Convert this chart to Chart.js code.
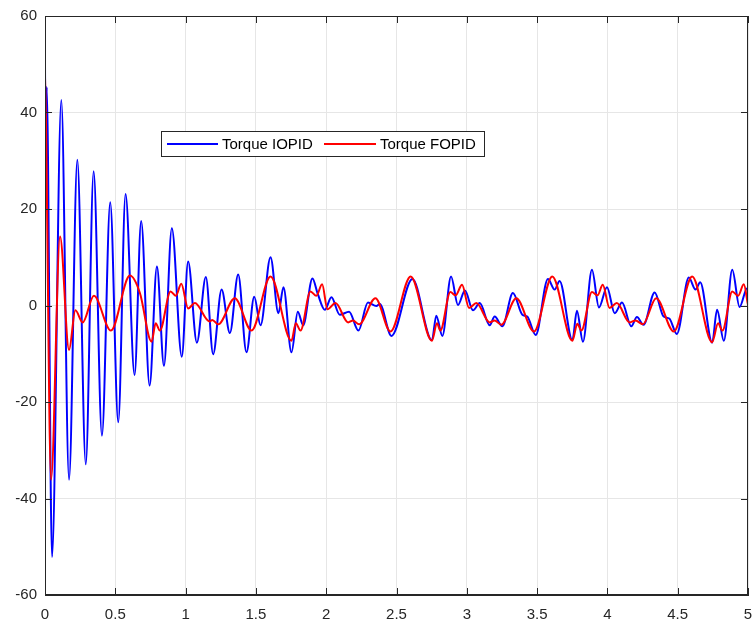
<!DOCTYPE html>
<html>
<head>
<meta charset="utf-8">
<script src="https://cdn.jsdelivr.net/npm/chart.js@4.4.0/dist/chart.umd.min.js"></script>
<style>
  html, body { margin: 0; padding: 0; background: #fff; }
</style>
</head>
<body>
<canvas id="graficoTorque" width="753" height="623"></canvas>
<script>
// ======== Dados ========

// Torque IOPID (azul)
const tempoIOPID = [
  0, 0.004, 0.012, 0.05, 0.116, 0.171, 0.23, 0.29, 0.346, 0.405,
  0.464, 0.521, 0.573, 0.637, 0.684, 0.744, 0.796, 0.846, 0.902, 0.973,
  1.018, 1.08, 1.144, 1.196, 1.256, 1.315, 1.374, 1.433, 1.488, 1.533,
  1.604, 1.66, 1.696, 1.753, 1.798, 1.836, 1.902, 1.94, 1.99, 2.037,
  2.096, 2.163, 2.229, 2.297, 2.357, 2.381, 2.464, 2.613, 2.752, 2.783,
  2.826, 2.888, 2.937, 2.987, 3.044, 3.092, 3.163, 3.198, 3.253, 3.328,
  3.395, 3.43, 3.49, 3.577, 3.625, 3.66, 3.751, 3.783, 3.826, 3.89,
  3.94, 3.997, 4.052, 4.104, 4.17, 4.21, 4.257, 4.336, 4.40, 4.44,
  4.494, 4.579, 4.627, 4.66, 4.745, 4.78, 4.828, 4.888, 4.94, 4.994, 5.0
];
const torqueIOPID = [
  49.8, 30.6, 45.3, -52.1, 42.6, -36.1, 30.2, -32.9, 27.8, -27.0,
  21.4, -24.2, 23.1, -14.4, 17.5, -16.6, 8.1, -12.5, 16.0, -10.6,
  9.1, -7.7, 5.9, -10.1, 3.3, -5.7, 6.4, -9.7, 1.8, -4.1,
  10.0, -1.6, 3.8, -9.7, -1.3, -4.1, 5.6, 2.4, -0.9, 1.7,
  -1.9, -1.3, -5.2, 0.6, -0.1, 0.3, -6.3, 5.5, -7.2, -2.1,
  -6.3, 6.0, 0.1, 3.1, -1.0, 0.5, -4.1, -2.3, -4.3, 2.6,
  -1.9, -2.3, -6.1, 5.5, 3.3, 5.1, -7.2, -1.1, -7.5, 7.4,
  -0.4, 3.8, -1.6, 0.6, -4.3, -2.4, -4.0, 2.7, -2.3, -2.7,
  -5.9, 5.8, 3.3, 4.8, -7.7, -0.9, -7.3, 7.4, -0.3, 3.6, 3.5
];

// Torque FOPID (vermelho)
const tempoFOPID = [
  0, 0.006, 0.043, 0.107, 0.171, 0.216, 0.268, 0.348, 0.469, 0.604,
  0.675, 0.758, 0.787, 0.817, 0.893, 0.931, 0.969, 1.018, 1.066, 1.17,
  1.19, 1.232, 1.35, 1.469, 1.604, 1.753, 1.784, 1.817, 1.888, 1.93,
  1.971, 2.009, 2.066, 2.156, 2.19, 2.234, 2.35, 2.457, 2.601, 2.752,
  2.788, 2.812, 2.883, 2.92, 2.966, 3.016, 3.068, 3.163, 3.198, 3.245,
  3.352, 3.478, 3.608, 3.751, 3.786, 3.815, 3.89, 3.93, 3.967, 4.015,
  4.067, 4.158, 4.2, 4.252, 4.347, 4.472, 4.603, 4.745, 4.787, 4.818,
  4.888, 4.93, 4.97, 5.0
];
const torqueFOPID = [
  47.2, 39.5, -36.1, 14.3, -9.2, -1.0, -3.5, 2.0, -5.2, 6.2,
  2.6, -7.5, -3.7, -5.2, 2.9, 2.0, 4.5, -0.6, 0.5, -3.3,
  -3.0, -3.9, 1.5, -5.2, 6.0, -7.3, -3.7, -5.2, 2.9, 2.0,
  4.4, -0.8, 0.5, -3.5, -3.1, -3.9, 1.5, -5.4, 6.0, -7.3,
  -3.7, -5.2, 2.8, 2.1, 4.3, -0.5, 0.5, -3.5, -3.1, -4.0,
  1.5, -5.4, 6.0, -7.3, -3.8, -5.2, 2.8, 2.1, 4.3, -0.5,
  0.5, -3.5, -3.1, -3.9, 1.5, -5.4, 6.0, -7.6, -3.7, -5.2,
  2.9, 2.0, 4.4, 0.1
];

// Eixos
const limitesX = [0, 5];
const passoX = 0.5;
const limitesY = [-60, 60];
const passoY = 20;

const rotulos = ["Torque IOPID", "Torque FOPID"];
const cores = ["#0000ff", "#ff0000"];

// ======== Montagem ========

const fonte = "'Liberation Sans', Arial, Helvetica, sans-serif";
const corEixo = "#262626";

function pontos(tempos, valores) {
  return tempos.map((t, i) => ({ x: t, y: valores[i] }));
}

//Caixa, ticks para dentro e legenda
const caixaPlugin = {
  id: "caixa",
  afterDraw(chart) {
    const { ctx, chartArea: a, scales } = chart;
    ctx.save();
    ctx.strokeStyle = corEixo;
    ctx.lineWidth = 1;
    ctx.strokeRect(a.left + 0.5, a.top + 0.5, a.right - a.left - 1, a.bottom - a.top - 1);

    const tam = 7;
    ctx.beginPath();
    scales.x.ticks.forEach((tk) => {
      const px = Math.round(scales.x.getPixelForValue(tk.value)) + 0.5;
      ctx.moveTo(px, a.bottom);
      ctx.lineTo(px, a.bottom - tam);
      ctx.moveTo(px, a.top);
      ctx.lineTo(px, a.top + tam);
    });
    scales.y.ticks.forEach((tk) => {
      const py = Math.round(scales.y.getPixelForValue(tk.value)) + 0.5;
      ctx.moveTo(a.left, py);
      ctx.lineTo(a.left + tam, py);
      ctx.moveTo(a.right, py);
      ctx.lineTo(a.right - tam, py);
    });
    ctx.stroke();

    // legenda
    const lx = 161.5, ly = 131.5, lw = 323, lh = 25;
    ctx.fillStyle = "#ffffff";
    ctx.fillRect(lx, ly, lw, lh);
    ctx.strokeStyle = corEixo;
    ctx.strokeRect(lx, ly, lw, lh);
    const itens = [
      { x1: 167, x2: 218, tx: 222 },
      { x1: 324, x2: 376, tx: 380 },
    ];
    ctx.font = "15px " + fonte;
    ctx.textBaseline = "middle";
    itens.forEach((it, i) => {
      ctx.strokeStyle = cores[i];
      ctx.lineWidth = 2;
      ctx.beginPath();
      ctx.moveTo(it.x1, ly + lh / 2);
      ctx.lineTo(it.x2, ly + lh / 2);
      ctx.stroke();
      ctx.fillStyle = "#000000";
      ctx.fillText(rotulos[i], it.tx, ly + lh / 2 + 1);
    });
    ctx.restore();
  },
};

const ctx = document.getElementById("graficoTorque").getContext("2d");
new Chart(ctx, {
  type: "line",
  data: {
    datasets: [
      {
        label: rotulos[0],
        data: pontos(tempoIOPID, torqueIOPID),
        borderColor: cores[0],
        borderWidth: 2,
        pointRadius: 0,
        cubicInterpolationMode: "monotone",
        order: 1,
      },
      {
        label: rotulos[1],
        data: pontos(tempoFOPID, torqueFOPID),
        borderColor: cores[1],
        borderWidth: 2,
        pointRadius: 0,
        cubicInterpolationMode: "monotone",
        order: 0,
      },
    ],
  },
  options: {
    responsive: false,
    animation: false,
    devicePixelRatio: 1,
    layout: { padding: { top: 16, right: 5, left: 0, bottom: 0 } },
    plugins: {
      legend: { display: false },
      tooltip: { enabled: false },
    },
    scales: {
      x: {
        type: "linear",
        min: limitesX[0],
        max: limitesX[1],
        ticks: {
          stepSize: passoX,
          color: corEixo,
          font: { family: fonte, size: 15 },
          padding: 11,
          maxRotation: 0,
          callback: (v) => String(Math.round(v * 10) / 10),
        },
        grid: { color: "#e6e6e6", drawTicks: false },
        border: { color: corEixo },
        afterFit: (s) => {
          s.height = 28;
          s.paddingLeft = 0;
          s.paddingRight = 0;
        },
      },
      y: {
        type: "linear",
        min: limitesY[0],
        max: limitesY[1],
        ticks: {
          stepSize: passoY,
          color: corEixo,
          font: { family: fonte, size: 15 },
          padding: 8,
        },
        grid: { color: "#e6e6e6", drawTicks: false },
        border: { color: corEixo },
        afterFit: (s) => {
          s.width = 45;
          s.paddingTop = 0;
          s.paddingBottom = 0;
        },
      },
    },
  },
  plugins: [caixaPlugin],
});
</script>
</body>
</html>
